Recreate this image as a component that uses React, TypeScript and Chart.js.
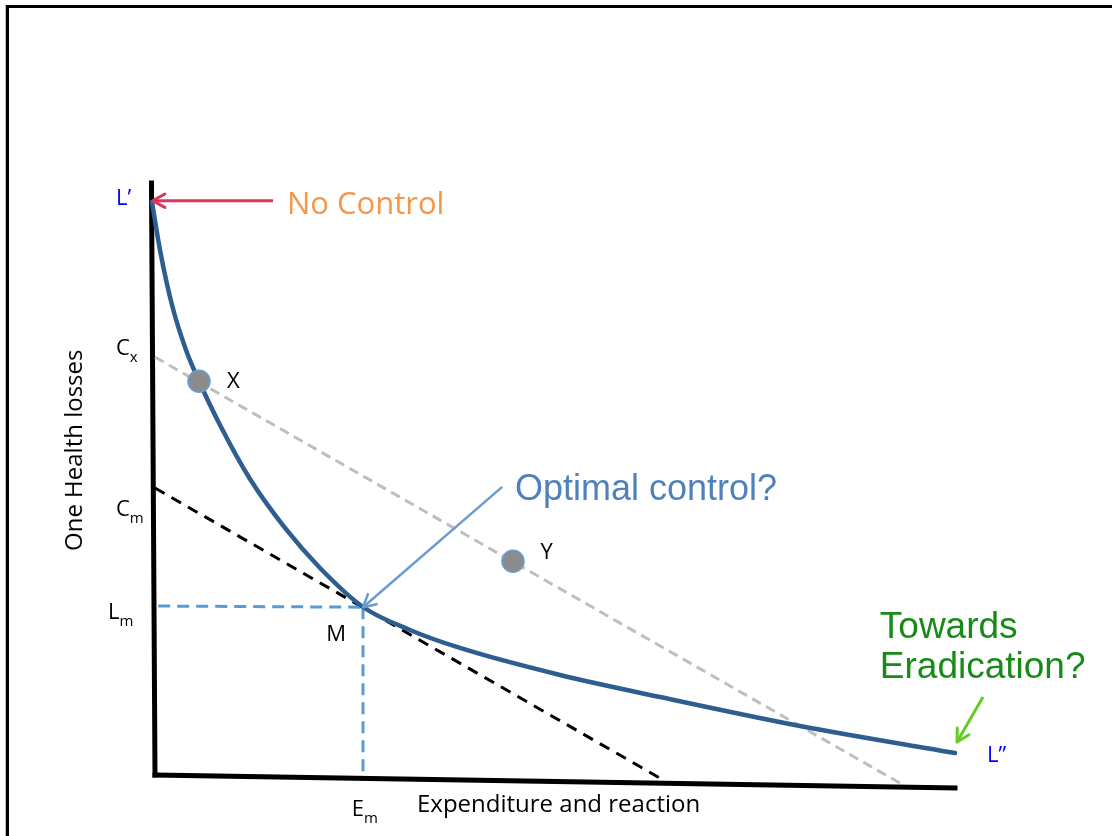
import React, { useEffect, useRef } from "react";
import { Chart, registerables } from "chart.js";

Chart.register(...registerables);

// Abstract units: x = expenditure (0..100 along axis), y = losses (0..100 up the axis)
const X_MIN = -19.375;
const X_MAX = 119.625;
const Y_MIN = -10.678;
const Y_MAX = 131.017;

// Loss curve L' -> L''
const curveX = [-0.375, 0.625, 2.125, 3.875, 5.5, 8.125, 11.875, 16.25, 20.625, 26.0, 31.875, 38.125, 50.625, 63.125, 80.625, 100];
const curveY = [96.78, 88.64, 79.32, 71.69, 66.44, 58.98, 49.83, 41.53, 34.75, 28.14, 24.24, 21.19, 16.61, 12.88, 7.97, 3.39];

// Axes (hand-drawn, slightly tilted)
const yAxisX = [-0.44, 0];
const yAxisY = [100, -0.34];
const xAxisX = [0, 100];
const xAxisY = [-0.34, -2.54];

// Iso-cost lines
const costXLineX = [0, 93.1];
const costXLineY = [70.5, -1.7];
const costMLineX = [0, 63.75];
const costMLineY = [48.3, -1.36];

// Optimum guides
const guideHX = [0.4, 26];
const guideHY = [28.3, 28.1];
const guideVX = [26, 26];
const guideVY = [28.1, -0.7];

// Points X and Y
const pointX = [5.5, 44.75];
const pointY = [66.4, 35.9];

// Arrows (start -> tip)
const arrowRedX = [14.75, -0.3];
const arrowRedY = [97.0, 97.0];
const arrowBlueX = [43.4, 26.0];
const arrowBlueY = [48.5, 28.1];
const arrowGreenX = [103.5, 100.25];
const arrowGreenY = [12.9, 5.25];

// Axis tick-like labels with subscripts
const markMain = ["C", "C", "L", "E"];
const markSub = ["x", "m", "m", "m"];
const markX = [-4.875, -4.875, -5.875, 24.6];
const markY = [71.9, 44.7, 27.2, -6.27];

const xTitle = "Expenditure and reaction";
const yTitle = "One Health losses";

const zip = (xs: number[], ys: number[]) => xs.map((x, i) => ({ x, y: ys[i] }));

const annotPlugin = {
  id: "annot",
  beforeDraw(chart: any) {
    const ctx = chart.ctx;
    ctx.save();
    ctx.fillStyle = "#ffffff";
    ctx.fillRect(0, 0, chart.width, chart.height);
    // frame
    ctx.fillStyle = "#bdbdbd";
    ctx.fillRect(5, 5, 1, chart.height);
    ctx.fillStyle = "#000000";
    ctx.fillRect(6, 5, chart.width - 6, 3);
    ctx.fillRect(6, 5, 3, chart.height);
    ctx.restore();
  },
  afterDatasetsDraw(chart: any) {
    const ctx = chart.ctx;
    const sx = chart.scales.x;
    const sy = chart.scales.y;
    const px = (v: number) => sx.getPixelForValue(v);
    const py = (v: number) => sy.getPixelForValue(v);

    // arrowheads
    chart.data.datasets.forEach((ds: any, i: number) => {
      if (!ds.arrow) return;
      const meta = chart.getDatasetMeta(i);
      const p0 = meta.data[0];
      const p1 = meta.data[meta.data.length - 1];
      const ang = Math.atan2(p1.y - p0.y, p1.x - p0.x);
      const len = 14;
      const spread = 0.5;
      ctx.save();
      ctx.strokeStyle = ds.borderColor;
      ctx.lineWidth = ds.borderWidth;
      ctx.lineCap = "round";
      ctx.lineJoin = "round";
      ctx.beginPath();
      ctx.moveTo(p1.x - len * Math.cos(ang - spread), p1.y - len * Math.sin(ang - spread));
      ctx.lineTo(p1.x, p1.y);
      ctx.lineTo(p1.x - len * Math.cos(ang + spread), p1.y - len * Math.sin(ang + spread));
      ctx.stroke();
      ctx.restore();
    });

    ctx.save();
    ctx.textBaseline = "middle";
    ctx.textAlign = "left";

    const txt = (s: string, x: number, y: number, font: string, color: string) => {
      ctx.font = font;
      ctx.fillStyle = color;
      ctx.fillText(s, px(x), py(y));
    };

    const body = '"Open Sans", "DejaVu Sans", sans-serif';
    const arial = '"Liberation Sans", Arial, sans-serif';

    // subscript marks
    markMain.forEach((m, i) => {
      ctx.font = `22px ${body}`;
      ctx.fillStyle = "#000";
      const x0 = px(markX[i]);
      const y0 = py(markY[i]);
      ctx.fillText(m, x0, y0);
      const w = ctx.measureText(m).width;
      ctx.font = `15px ${body}`;
      ctx.fillText(markSub[i], x0 + w, y0 + 9);
    });

    txt("L\u2019", -4.875, 97.3, `22px ${body}`, "#0000ff");
    txt("L\u201D", 104, 2.9, `22px ${body}`, "#0000ff");
    txt("No Control", 16.5, 96.3, `31px ${body}`, "#f79646");
    txt("X", 9.0, 66.4, `22px ${body}`, "#000");
    txt("Y", 48.2, 37.3, `22px ${body}`, "#000");
    txt("M", 21.4, 23.4, `22px ${body}`, "#000");
    txt(xTitle, 32.75, -5.42, `24px ${body}`, "#000");
    txt("Optimal control?", 45, 48.0, `36px ${arial}`, "#4f81bd");
    txt("Towards", 90.6, 24.6, `37px ${arial}`, "#178a17");
    txt("Eradication?", 90.6, 17.8, `37px ${arial}`, "#178a17");

    // rotated y title
    ctx.save();
    ctx.translate(px(-10), py(54.7));
    ctx.rotate(-Math.PI / 2);
    ctx.textAlign = "center";
    ctx.font = `24px ${body}`;
    ctx.fillStyle = "#000";
    ctx.fillText(yTitle, 0, 0);
    ctx.restore();

    ctx.restore();
  },
};

export default function App() {
  const ref = useRef<HTMLCanvasElement | null>(null);

  useEffect(() => {
    if (!ref.current) return;
    const line = (xs: number[], ys: number[], color: string, width: number, order: number, dash: number[] = []) => ({
      type: "scatter" as const,
      data: zip(xs, ys),
      showLine: true,
      borderColor: color,
      backgroundColor: color,
      borderWidth: width,
      borderDash: dash,
      pointRadius: 0,
      pointHoverRadius: 0,
      clip: false,
      order,
    });

    const chart = new Chart(ref.current, {
      type: "scatter",
      data: {
        datasets: [
          { ...line(yAxisX, yAxisY, "#000000", 5, 9), borderCapStyle: "square" },
          { ...line(xAxisX, xAxisY, "#000000", 5, 9), borderCapStyle: "square" },
          line(costXLineX, costXLineY, "#bfbfbf", 3, 8, [10, 6]),
          line(costMLineX, costMLineY, "#000000", 3, 7, [11, 8]),
          line(guideHX, guideHY, "#5b9bd5", 3, 6, [12, 7]),
          line(guideVX, guideVY, "#5b9bd5", 3, 6, [12, 7]),
          {
            ...line(curveX, curveY, "#2e5d8f", 4.5, 4),
            cubicInterpolationMode: "monotone",
            borderCapStyle: "round",
          },
          { ...line(arrowRedX, arrowRedY, "#e0335c", 3, 3), arrow: true },
          { ...line(arrowBlueX, arrowBlueY, "#6a9bd1", 2.5, 3), arrow: true },
          { ...line(arrowGreenX, arrowGreenY, "#66cc22", 3, 3), arrow: true },
          {
            type: "scatter",
            data: zip(pointX, pointY),
            showLine: false,
            pointRadius: 11,
            pointHoverRadius: 11,
            pointBackgroundColor: "#8c8c8c",
            pointBorderColor: "#6a9bd1",
            pointBorderWidth: 1.5,
            clip: false,
            order: 0,
          },
        ] as any,
      },
      options: {
        responsive: false,
        maintainAspectRatio: false,
        animation: false,
        events: [],
        layout: { padding: 0, autoPadding: false },
        plugins: { legend: { display: false }, tooltip: { enabled: false } },
        scales: {
          x: { type: "linear", min: X_MIN, max: X_MAX, display: false },
          y: { type: "linear", min: Y_MIN, max: Y_MAX, display: false },
        },
      },
      plugins: [annotPlugin],
    });
    return () => chart.destroy();
  }, []);

  return (
    <div style={{ position: "absolute", left: 0, top: 0, width: 1112, height: 836 }}>
      <canvas ref={ref} width={1112} height={836} style={{ display: "block", width: 1112, height: 836 }} />
    </div>
  );
}
